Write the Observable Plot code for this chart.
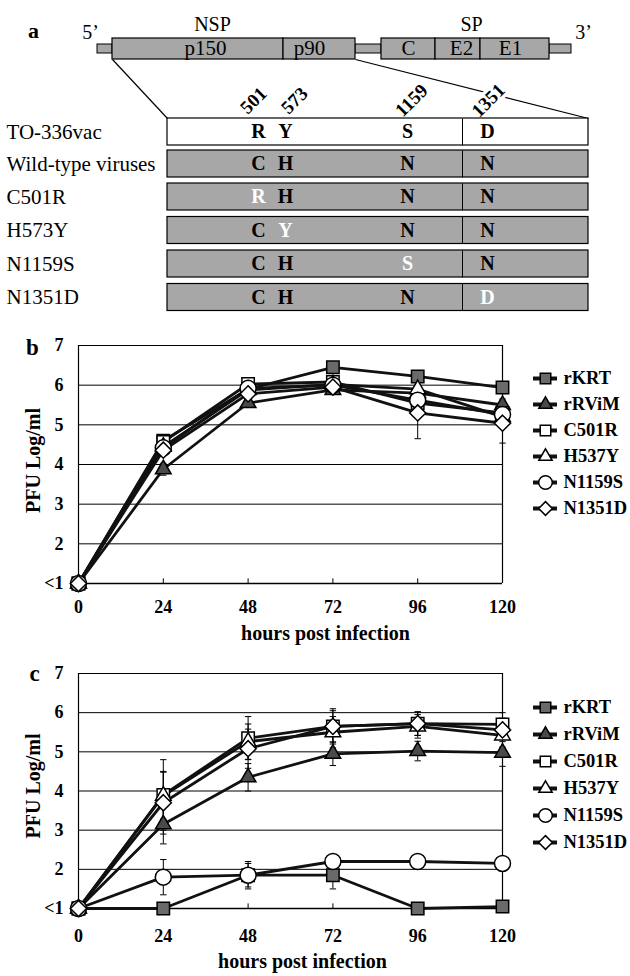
<!DOCTYPE html>
<html><head><meta charset="utf-8">
<script src="https://cdn.jsdelivr.net/npm/d3@7"></script>
<script src="https://cdn.jsdelivr.net/npm/@observablehq/plot@0.6"></script>
<style>
body{margin:0;background:#fff;}
#fig{position:relative;width:630px;height:976px;overflow:hidden;}
#fig > svg{position:absolute;}
</style></head><body><div id="fig"></div>
<script>
// ---------------- DATA ----------------
// panel a
const rowLabels = ["TO-336vac","Wild-type viruses","C501R","H573Y","N1159S","N1351D"];
const residuePositions = [501, 573, 1159, 1351];
const rowResidues = [["R","Y","S","D"],["C","H","N","N"],["R","H","N","N"],["C","Y","N","N"],["C","H","S","N"],["C","H","N","D"]];
const genomeSegments = ["p150","p90","C","E2","E1"];
const genomeRegions = ["NSP","SP"];
const genomeEnds = ["5\u2019","3\u2019"];
// panels b, c
const hours = [0, 24, 48, 72, 96, 120];
const series = ["rKRT","rRViM","C501R","H537Y","N1159S","N1351D"];
const yTicks = [1, 2, 3, 4, 5, 6, 7];
const yTickLabels = ["<1","2","3","4","5","6","7"];
const axisTitleX = "hours post infection";
const axisTitleY = "PFU Log/ml";
// panel b values (log PFU/ml)
const b_rKRT   = [1, 4.60, 5.90, 6.45, 6.22, 5.94];
const b_rRViM  = [1, 3.88, 5.55, 5.88, 5.80, 5.50];
const b_C501R  = [1, 4.57, 6.03, 6.08, 5.55, 5.30];
const b_H537Y  = [1, 4.45, 5.88, 6.02, 5.90, 5.20];
const b_N1159S = [1, 4.42, 5.92, 6.00, 5.62, 5.26];
const b_N1351D = [1, 4.36, 5.78, 5.95, 5.30, 5.04];
// panel b error (+/-)
const bErr_rKRT   = [0, 0, 0, 0, 0, 0];
const bErr_rRViM  = [0, 0.15, 0.10, 0.10, 0.15, 0.15];
const bErr_C501R  = [0, 0, 0, 0, 0, 0];
const bErr_H537Y  = [0, 0, 0, 0, 0.20, 0];
const bErr_N1159S = [0, 0, 0, 0, 0, 0];
const bErr_N1351D = [0, 0, 0, 0, 0.65, 0.50];
// panel c values
const c_rKRT   = [1, 1.00, 1.85, 1.85, 1.00, 1.05];
const c_rRViM  = [1, 3.15, 4.35, 4.95, 5.02, 4.98];
const c_C501R  = [1, 3.90, 5.35, 5.65, 5.72, 5.70];
const c_H537Y  = [1, 3.88, 5.26, 5.50, 5.65, 5.42];
const c_N1159S = [1, 1.80, 1.85, 2.20, 2.20, 2.15];
const c_N1351D = [1, 3.70, 5.08, 5.65, 5.72, 5.56];
// panel c error (+/-)
const cErr_rKRT   = [0, 0, 0.30, 0.35, 0, 0];
const cErr_rRViM  = [0, 0.50, 0.35, 0.30, 0.25, 0.35];
const cErr_C501R  = [0, 0.90, 0.55, 0.45, 0.30, 0.30];
const cErr_H537Y  = [0, 0.60, 0.45, 0.40, 0.30, 0.30];
const cErr_N1159S = [0, 0.45, 0.35, 0, 0, 0];
const cErr_N1351D = [0, 0.80, 0.50, 0.40, 0.30, 0.30];

// ---------------- STYLE / LAYOUT ----------------
const FONT = '"Liberation Serif","Times New Roman",serif';
const GRAY = "#a7a7a7";
const diamondSym = {draw(ctx, size){const r = Math.sqrt(size) * 0.7; ctx.moveTo(0,-r); ctx.lineTo(r,0); ctx.lineTo(0,r); ctx.lineTo(-r,0); ctx.closePath();}};
const capSym = {draw(ctx, size){const w = Math.sqrt(size) / 2; ctx.moveTo(-w,0); ctx.lineTo(w,0);}};
const tickSym = {draw(ctx, size){ctx.moveTo(0,0); ctx.lineTo(0,-Math.sqrt(size));}};
const seriesStyle = {
  rKRT:   {symbol:"square",   fill:"#6a6a6a", r:7},
  rRViM:  {symbol:"triangle", fill:"#4a4a4a", r:5.8},
  C501R:  {symbol:"square",   fill:"white",   r:7},
  H537Y:  {symbol:"triangle", fill:"white",   r:5.8},
  N1159S: {symbol:"circle",   fill:"white",   r:8},
  N1351D: {symbol:diamondSym, fill:"white",   r:6.5}
};
const layoutA = {
  rowY:[131.5,163.5,196.5,230,263.5,297], rowHalf:13.5, boxX1:167, boxX2:588, dividerX:462, rowLabelX:6,
  residueX:[258,285,407,487], numberX:[253,294,411,488], numberY:100,
  segX:[[112,283],[283,355],[381,435],[435,480],[480,549]], segLabelX:[205,309,408,461,510],
  segY1:38, segY2:59, segLabelY:48,
  stubs:[[97,112],[355,381],[549,571]], stubY1:44, stubY2:53,
  regionX:[212,471], regionY:24, endX:[90,583], endY:32,
  zoomLines:[[112,59,167,118],[355,59,588,118]], tag:[33,30]
};

const fig = document.getElementById("fig");
function place(svg, top, left){ svg.style.top = top + "px"; svg.style.left = (left||0) + "px"; fig.appendChild(svg); }

// ---------------- PANEL A ----------------
{
  const L = layoutA;
  const rows = rowLabels.map((label,i)=>({label, i, y:L.rowY[i]}));
  const cells = [];
  rowResidues.forEach((res,i)=>res.forEach((aa,j)=>cells.push({aa, pos:residuePositions[j], y:L.rowY[i],
      mutated: i>=2 && aa !== rowResidues[1][j]})));
  const resX = d3.scaleLinear().domain(residuePositions).range(L.residueX);
  const numX = d3.scaleLinear().domain(residuePositions).range(L.numberX);
  const segs = genomeSegments.map((name,i)=>({name, x1:L.segX[i][0], x2:L.segX[i][1], lx:L.segLabelX[i]}));
  const svg = Plot.plot({
    width:630, height:320, margin:0,
    x:{domain:[0,630], range:[0,630], axis:null},
    y:{domain:[0,320], range:[0,320], axis:null},
    style:{fontFamily:FONT, fontSize:"20px", background:"white", color:"black"},
    marks:[
      Plot.link(L.zoomLines, {x1:d=>d[0], y1:d=>d[1], x2:d=>d[2], y2:d=>d[3], stroke:"black", strokeWidth:1.2}),
      Plot.text(residuePositions, {x:d=>numX(d), y:L.numberY, text:d=>String(d), rotate:-45, fontSize:19, fontWeight:"bold",
        stroke:"white", strokeWidth:7, fill:"black", paintOrder:"stroke"}),
      Plot.rect(L.stubs, {x1:d=>d[0], x2:d=>d[1], y1:L.stubY1, y2:L.stubY2, fill:GRAY, stroke:"black", strokeWidth:1}),
      Plot.rect(segs, {x1:"x1", x2:"x2", y1:L.segY1, y2:L.segY2, fill:GRAY, stroke:"black", strokeWidth:1.2}),
      Plot.text(segs, {x:"lx", y:L.segLabelY, text:"name", fontSize:21}),
      Plot.text(genomeRegions, {x:(d,i)=>L.regionX[i], y:L.regionY, text:d=>d, fontSize:20}),
      Plot.text(genomeEnds, {x:(d,i)=>L.endX[i], y:L.endY, text:d=>d, fontSize:20}),
      Plot.rect(rows, {x1:L.boxX1, x2:L.boxX2, y1:d=>d.y-L.rowHalf, y2:d=>d.y+L.rowHalf, fill:d=>d.i===0?"white":GRAY, stroke:"black", strokeWidth:1.2}),
      Plot.link(rows, {x1:L.dividerX, x2:L.dividerX, y1:d=>d.y-L.rowHalf, y2:d=>d.y+L.rowHalf, stroke:"black", strokeWidth:1}),
      Plot.text(rows, {x:L.rowLabelX, y:"y", text:"label", textAnchor:"start", fontSize:21}),
      Plot.text(cells, {x:d=>resX(d.pos), y:"y", text:"aa", fontSize:20, fontWeight:"bold", fill:d=>d.mutated?"white":"black"}),
      Plot.text(["a"], {x:L.tag[0], y:L.tag[1], text:d=>d, fontSize:22, fontWeight:"bold"})
    ]
  });
  place(svg, 0);
}

// ---------------- PANELS B, C ----------------
function buildPanel(opts){
  const {values, errors, tag, top, height, marginTop, marginBottom, tickPadX, titleDy, titleDx, yLabelDy, tagDx, tagDy} = opts;
  const data = [];
  series.forEach((s,si)=>hours.forEach((t,ti)=>data.push({series:s, t, v:values[si][ti], e:errors[si][ti]})));
  const errs = data.filter(d=>d.e>0);
  const caps = errs.flatMap(d=>[{t:d.t, y:d.v-d.e},{t:d.t, y:d.v+d.e}]);
  const dotMarks = series.map(s=>{
    const st = seriesStyle[s];
    return Plot.dot(data.filter(d=>d.series===s), {x:"t", y:"v", symbol:st.symbol, r:st.r, fill:st.fill, stroke:"black", strokeWidth:1.5});
  });
  const svg = Plot.plot({
    width:630, height, marginLeft:78, marginRight:128, marginTop, marginBottom,
    x:{domain:[0,120], axis:null},
    y:{domain:[1,7], axis:null},
    style:{fontFamily:FONT, background:"white", color:"black"},
    marks:[
      Plot.ruleY(yTicks.slice(1), {stroke:"black", strokeWidth:1}),
      Plot.ruleY([1], {stroke:"black", strokeWidth:1.4}),
      Plot.ruleX([0,120], {y1:1, y2:7, stroke:"black", strokeWidth:1.2}),
      Plot.dot(hours.slice(1,-1), {x:d=>d, y:1, symbol:tickSym, r:2.9, stroke:"black", fill:"none", strokeWidth:1}),
      Plot.axisY({ticks:yTicks, tickSize:0, tickPadding:15, tickFormat:d=>yTickLabels[yTicks.indexOf(d)], fontSize:18, fontWeight:"bold", label:null}),
      Plot.axisX({ticks:hours, tickSize:0, tickPadding:tickPadX, tickFormat:d=>String(d), fontSize:18, fontWeight:"bold", label:null}),
      Plot.line(data, {x:"t", y:"v", z:"series", stroke:"#111", strokeWidth:2.8}),
      Plot.ruleX(errs, {x:"t", y1:d=>d.v-d.e, y2:d=>d.v+d.e, stroke:"black", strokeWidth:1}),
      Plot.dot(caps, {x:"t", y:"y", symbol:capSym, r:3.6, stroke:"black", fill:"none", strokeWidth:1}),
      ...dotMarks,
      Plot.text([axisTitleX], {frameAnchor:"bottom", text:d=>d, dy:titleDy, dx:titleDx, textAnchor:"middle", lineAnchor:"middle", fontSize:20, fontWeight:"bold"}),
      Plot.text([axisTitleY], {frameAnchor:"left", text:d=>d, dx:-45, dy:yLabelDy, rotate:-90, textAnchor:"middle", lineAnchor:"middle", fontSize:20, fontWeight:"bold"}),
      Plot.text([tag], {frameAnchor:"top-left", text:d=>d, dx:tagDx, dy:tagDy, textAnchor:"middle", lineAnchor:"middle", fontSize:23, fontWeight:"bold"})
    ]
  });
  place(svg, top);
}
function buildLegend(top, rowTop, rowGap){
  const svg = Plot.plot({
    width:110, height:210, margin:0,
    x:{domain:[0,110], range:[0,110], axis:null},
    y:{type:"point", domain:series, range:[rowTop, rowTop + rowGap*(series.length-1)], axis:null},
    style:{fontFamily:FONT, background:"transparent", color:"black"},
    marks:[
      Plot.ruleY(series, {y:d=>d, x1:13, x2:37, stroke:"#111", strokeWidth:4}),
      ...series.map(s=>{const st = seriesStyle[s];
        return Plot.dot([s], {x:25, y:d=>d, symbol:st.symbol, r:st.r*0.85, fill:st.fill, stroke:"black", strokeWidth:1.5});}),
      Plot.text(series, {x:43, y:d=>d, text:d=>d, textAnchor:"start", fontSize:18.5, fontWeight:"bold"})
    ]
  });
  place(svg, top, 520);
}

buildPanel({
  values:[b_rKRT,b_rRViM,b_C501R,b_H537Y,b_N1159S,b_N1351D],
  errors:[bErr_rKRT,bErr_rRViM,bErr_C501R,bErr_H537Y,bErr_N1159S,bErr_N1351D],
  tag:"b", top:330, height:315, marginTop:15, marginBottom:62, tickPadX:17, titleDy:50, titleDx:35, yLabelDy:-4, tagDx:-46, tagDy:2
});
buildLegend(340, 22, 32.2);
buildPanel({
  values:[c_rKRT,c_rRViM,c_C501R,c_H537Y,c_N1159S,c_N1351D],
  errors:[cErr_rKRT,cErr_rRViM,cErr_C501R,cErr_H537Y,cErr_N1159S,cErr_N1351D],
  tag:"c", top:660, height:316, marginTop:13, marginBottom:68, tickPadX:21, titleDy:53, titleDx:12, yLabelDy:-5, tagDx:-44, tagDy:0
});
buildLegend(670, 23, 32.6);
</script></body></html>
